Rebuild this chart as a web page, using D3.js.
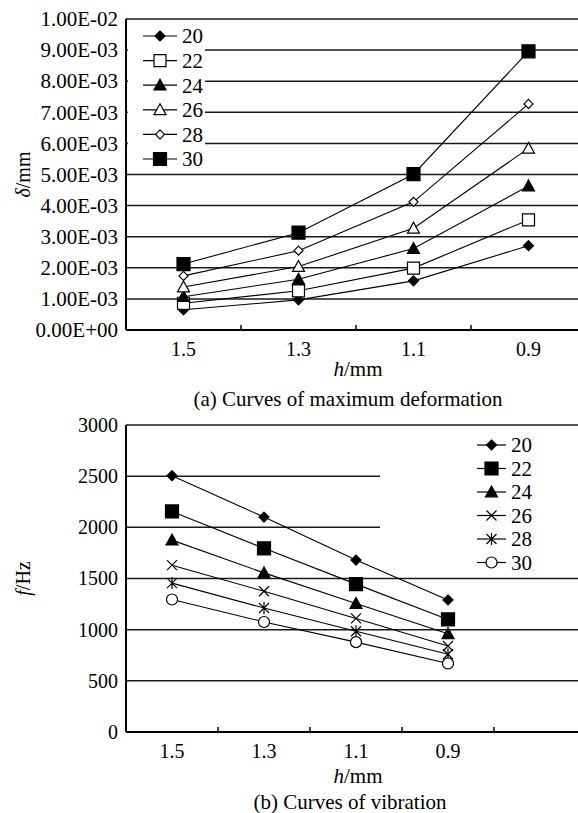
<!DOCTYPE html>
<html>
<head>
<meta charset="utf-8">
<script src="https://cdn.jsdelivr.net/npm/d3@7"></script>
<style>
  html, body { margin: 0; padding: 0; background: #fff; }
  svg { display: block; }
  svg text { font-family: "Liberation Serif", "Times New Roman", Tinos, "DejaVu Serif", serif; fill: #000; }
</style>
</head>
<body>
<svg id="chart" width="578" height="813"></svg>
<script>
/* ── DATA ───────────────────────────────────────── */
const hCats      = ['1.5', '1.3', '1.1', '0.9'];
const hCatsB     = ['1.5', '1.3', '1.1', '0.9', ''];   // plot (b) keeps one empty slot on the right
const seriesKeys = ['20', '22', '24', '26', '28', '30'];

// (a) maximum deformation, mm
const def20 = [0.00065, 0.00097, 0.00158, 0.00271];
const def22 = [0.00086, 0.00126, 0.00199, 0.00354];
const def24 = [0.00107, 0.00163, 0.00262, 0.00463];
const def26 = [0.00138, 0.00204, 0.00327, 0.00584];
const def28 = [0.00174, 0.00255, 0.00412, 0.00727];
const def30 = [0.00212, 0.00313, 0.00501, 0.00896];

// (b) vibration frequency, Hz
const vib20 = [2505, 2100, 1680, 1290];
const vib22 = [2155, 1795, 1445, 1100];
const vib24 = [1875, 1555, 1255, 960];
const vib26 = [1630, 1375, 1110, 840];
const vib28 = [1455, 1212, 985, 760];
const vib30 = [1295, 1075, 878, 670];

const defSeries = [def20, def22, def24, def26, def28, def30];
const vibSeries = [vib20, vib22, vib24, vib26, vib28, vib30];

/* ── MARKERS ─────────────────────────────────────── */
function markerPath(shape, r) {
  switch (shape) {
    case 'diamond':  return `M0,${-r}L${r},0L0,${r}L${-r},0Z`;
    case 'square':   return `M${-r},${-r}H${r}V${r}H${-r}Z`;
    case 'triangle': return `M0,${-r}L${r},${r * 0.8}L${-r},${r * 0.8}Z`;
    case 'circle':   return `M${r},0A${r},${r} 0 1,1 ${-r},0A${r},${r} 0 1,1 ${r},0Z`;
    case 'x':        return `M${-r},${-r}L${r},${r}M${-r},${r}L${r},${-r}`;
    case 'star':     return `M${-r},${-r}L${r},${r}M${-r},${r}L${r},${-r}M0,${-r * 1.2}V${r * 1.2}`;
  }
}
// shape, radius, filled
const markA = [['diamond', 5, true], ['square', 6, false], ['triangle', 6, true],
               ['triangle', 6, false], ['diamond', 4.5, false], ['square', 6.5, true]];
const markB = [['diamond', 5, true], ['square', 6.5, true], ['triangle', 6, true],
               ['x', 5, false], ['star', 5, false], ['circle', 5.5, false]];

function drawMarker(g, x, y, m) {
  const [shape, r, filled] = m;
  g.append('path')
    .attr('transform', `translate(${x},${y})`)
    .attr('d', markerPath(shape, r))
    .attr('fill', filled ? '#000' : (shape === 'x' || shape === 'star' ? 'none' : '#fff'))
    .attr('stroke', '#000')
    .attr('stroke-width', 1.2);
}

const svg = d3.select('#chart');

function fmtSci(d) {
  const [m, e] = d.toExponential(2).split('e');
  const sign = e[0] === '-' ? '-' : '+';
  const digits = e.replace(/[+-]/, '').padStart(2, '0');
  return m + 'E' + sign + digits;
}

/* ── PANEL ───────────────────────────────────────── */
function panel(opt) {
  const g = svg.append('g');
  const x = d3.scaleBand().domain(opt.cats).range([126, 586]);
  const y = d3.scaleLinear().domain(opt.yDomain).range([opt.bottom, opt.top]);

  // gridlines
  g.append('g').selectAll('line').data(opt.yTicks.filter(d => d !== 0)).join('line')
    .attr('x1', 126).attr('x2', 586)
    .attr('y1', d => y(d)).attr('y2', d => y(d))
    .attr('stroke', '#1a1a1a').attr('stroke-width', 1.5);

  // y labels
  const ya = d3.axisLeft(y).tickValues(opt.yTicks).tickSize(0).tickPadding(8).tickFormat(opt.fmt);
  g.append('g').attr('transform', 'translate(126,0)').call(ya)
    .attr('font-family', null).attr('font-size', null)
    .call(s => s.select('.domain').remove())
    .selectAll('text').attr('font-size', opt.yFont).attr('fill', '#000');

  // x labels
  const xa = d3.axisBottom(x).tickSize(0).tickPadding(12);
  g.append('g').attr('transform', `translate(0,${opt.bottom})`).call(xa)
    .attr('font-family', null).attr('font-size', null)
    .call(s => s.select('.domain').remove())
    .selectAll('text').attr('font-size', 20).attr('fill', '#000');

  // axis lines + inward category ticks
  g.append('line').attr('x1', 126).attr('x2', 126).attr('y1', opt.top).attr('y2', opt.bottom)
    .attr('stroke', '#000').attr('stroke-width', 2);
  g.append('line').attr('x1', 126).attr('x2', 586).attr('y1', opt.bottom).attr('y2', opt.bottom)
    .attr('stroke', '#000').attr('stroke-width', 2);
  g.append('g').selectAll('line').data(opt.cats).join('line')
    .attr('x1', d => x(d) + x.bandwidth()).attr('x2', d => x(d) + x.bandwidth())
    .attr('y1', opt.bottom).attr('y2', opt.bottom - 5)
    .attr('stroke', '#000').attr('stroke-width', 1.5);

  // legend box (hides the gridlines behind it)
  const lg = opt.legend;
  g.append('rect').attr('x', lg.x0).attr('y', lg.y0)
    .attr('width', lg.x1 - lg.x0).attr('height', lg.y1 - lg.y0).attr('fill', '#fff');

  // series
  const line = d3.line().x((d, i) => x(hCats[i]) + x.bandwidth() / 2).y(d => y(d));
  opt.series.forEach((vals, k) => {
    g.append('path').datum(vals).attr('d', line)
      .attr('fill', 'none').attr('stroke', '#000').attr('stroke-width', 1.1);
  });
  opt.series.forEach((vals, k) => {
    vals.forEach((v, i) => drawMarker(g, x(hCats[i]) + x.bandwidth() / 2, y(v), opt.marks[k]));
  });

  // legend entries
  seriesKeys.forEach((key, k) => {
    const ly = lg.first + k * lg.step;
    g.append('line').attr('x1', lg.lx).attr('x2', lg.lx + lg.len).attr('y1', ly).attr('y2', ly)
      .attr('stroke', '#000').attr('stroke-width', 1.2);
    drawMarker(g, lg.lx + lg.len / 2, ly, opt.marks[k]);
    g.append('text').attr('x', lg.lx + lg.len + 5).attr('y', ly).attr('dy', '0.35em')
      .attr('font-size', 21).text(key);
  });

  // axis titles
  const yt = g.append('text')
    .attr('transform', `translate(30,${(opt.top + opt.bottom) / 2}) rotate(-90)`)
    .attr('text-anchor', 'middle').attr('font-size', 20);
  yt.append('tspan').attr('font-style', 'italic').text(opt.yVar);
  yt.append('tspan').text(opt.yUnit);

  const xt = g.append('text').attr('x', 358).attr('y', opt.bottom + opt.titleGap)
    .attr('text-anchor', 'middle').attr('font-size', 21);
  xt.append('tspan').attr('font-style', 'italic').text('h');
  xt.append('tspan').text('/mm');

  g.append('text').attr('x', opt.capX).attr('y', opt.bottom + opt.capGap)
    .attr('text-anchor', 'middle').attr('font-size', 21).text(opt.caption);
}

panel({
  cats: hCats, top: 19, bottom: 330, yDomain: [0, 0.01],
  yTicks: d3.scaleLinear().domain([0, 0.01]).ticks(10), fmt: fmtSci, yFont: 21,
  series: defSeries, marks: markA,
  legend: { x0: 128, x1: 205, y0: 23, y1: 169, lx: 143, len: 34, first: 36, step: 24.6 },
  yVar: 'δ', yUnit: '/mm', caption: '(a) Curves of maximum deformation',
  titleGap: 46, capGap: 76, capX: 348
});

panel({
  cats: hCatsB, top: 425, bottom: 732, yDomain: [0, 3000],
  yTicks: d3.scaleLinear().domain([0, 3000]).ticks(6), fmt: d3.format('d'), yFont: 20,
  series: vibSeries, marks: markB,
  legend: { x0: 380, x1: 586, y0: 429, y1: 572, lx: 477, len: 29, first: 445, step: 23.5 },
  yVar: 'f', yUnit: '/Hz', caption: '(b) Curves of vibration',
  titleGap: 51, capGap: 77, capX: 350
});
</script>
</body>
</html>
